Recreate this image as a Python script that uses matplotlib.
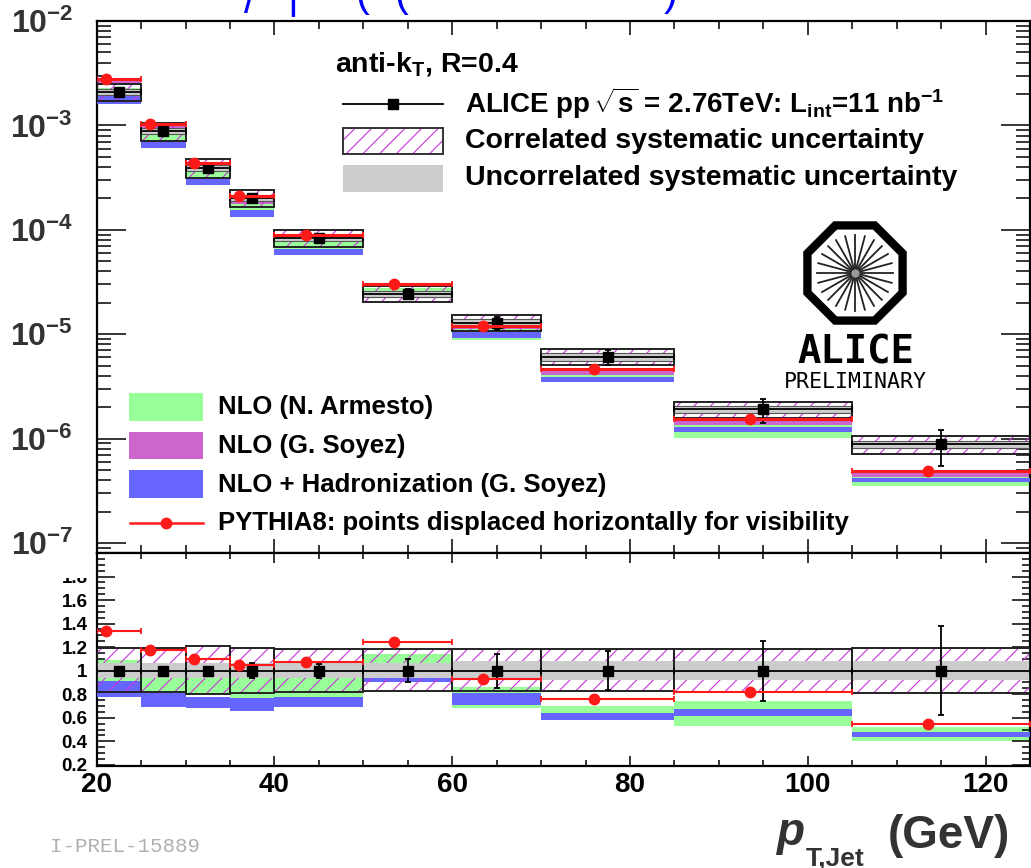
import numpy as np
import matplotlib
matplotlib.use('Agg')
import matplotlib.pyplot as plt
from matplotlib.patches import Rectangle, RegularPolygon
from matplotlib.ticker import FixedLocator, FuncFormatter, MultipleLocator, NullFormatter

W, H = 1031, 868
plt.rcParams['font.family'] = ['Liberation Sans', 'DejaVu Sans']
plt.rcParams['font.weight'] = 'bold'
plt.rcParams['mathtext.fontset'] = 'custom'
plt.rcParams['mathtext.rm'] = 'Liberation Sans:bold'
plt.rcParams['mathtext.bf'] = 'Liberation Sans:bold'
plt.rcParams['mathtext.it'] = 'Liberation Sans:italic:bold'
plt.rcParams['mathtext.sf'] = 'Liberation Sans:bold'
plt.rcParams['hatch.linewidth'] = 0.8

# ---------------- data ----------------
bin_lo = [20, 25, 30, 35, 40, 50, 60, 70, 85, 105]
bin_hi = [25, 30, 35, 40, 50, 60, 70, 85, 105, 125]
data_x = [22.5, 27.5, 32.5, 37.5, 45.0, 55.0, 65.0, 77.5, 95.0, 115.0]
data_y = [2.08e-3, 8.77e-4, 3.94e-4, 2.03e-4, 8.36e-5, 2.45e-5, 1.29e-5, 6.07e-6, 1.91e-6, 8.85e-7]
stat_rel = [0.01, 0.015, 0.02, 0.065, 0.06, 0.10, 0.145, 0.165, 0.255, 0.38]
corr_up = [0.193, 0.19, 0.207, 0.19, 0.187, 0.18, 0.18, 0.18, 0.18, 0.19]
corr_dn = [0.185, 0.185, 0.20, 0.19, 0.185, 0.17, 0.17, 0.17, 0.18, 0.19]
uncorr_rel = [0.065, 0.065, 0.065, 0.065, 0.065, 0.065, 0.08, 0.08, 0.08, 0.08]

pythia_x = [21.0, 26.0, 31.0, 36.0, 43.5, 53.5, 63.5, 76.0, 93.5, 113.5]
pythia_ratio = [1.334, 1.173, 1.10, 1.045, 1.074, 1.244, 0.932, 0.759, 0.815, 0.549]

armesto_hi = [1.09, 1.00, 0.95, 0.95, 0.98, 1.14, 0.86, 0.70, 0.745, 0.52]
armesto_lo = [0.88, 0.80, 0.79, 0.75, 0.78, 0.95, 0.68, 0.60, 0.526, 0.40]
soyez_hi = [1.27, 1.14, 1.12, 0.975, 1.02, 1.02, 0.92, 0.758, 0.77, 0.53]
soyez_lo = [1.19, 1.06, 1.05, 0.875, 0.915, 0.95, 0.86, 0.668, 0.70, 0.487]
had_hi = [0.91, 0.81, 0.78, 0.77, 0.78, 0.94, 0.81, 0.64, 0.677, 0.476]
had_lo = [0.775, 0.69, 0.68, 0.655, 0.69, 0.905, 0.71, 0.577, 0.611, 0.436]

C_GREEN = '#99ff99'
C_PURPLE = '#cc66cc'
C_BLUE = '#6666ff'
C_GRAY = '#cccccc'
C_HATCH = '#cc33dd'
C_RED = '#ff1a1a'

fig = plt.figure(figsize=(W / 100, H / 100), dpi=100)
L = 96.7 / W
Wd = 933.3 / W
ax1 = fig.add_axes([L, 1 - 553 / H, Wd, 532 / H])
ax2 = fig.add_axes([L, 1 - 766 / H, Wd, 213 / H])


def draw_panel(ax, scale, with_soyez, top):
    for i in range(len(bin_lo)):
        x0, x1 = bin_lo[i], bin_hi[i]
        w = x1 - x0
        s = scale[i]
        ax.add_patch(Rectangle((x0, s * armesto_lo[i]), w, s * (armesto_hi[i] - armesto_lo[i]),
                               fc=C_GREEN, lw=0, zorder=1))
        if with_soyez:
            ax.add_patch(Rectangle((x0, s * soyez_lo[i]), w, s * (soyez_hi[i] - soyez_lo[i]),
                                   fc=C_PURPLE, lw=0, zorder=2))
        ax.add_patch(Rectangle((x0, s * had_lo[i]), w, s * (had_hi[i] - had_lo[i]),
                               fc=C_BLUE, lw=0, zorder=3))
        ylo = s * (1 - corr_dn[i])
        yhi = s * (1 + corr_up[i])
        ax.add_patch(Rectangle((x0, ylo), w, yhi - ylo, fc='none', ec=C_HATCH,
                               hatch='//', lw=0, zorder=4))
        ulo = s * (1 - uncorr_rel[i])
        uhi = s * (1 + uncorr_rel[i])
        ax.add_patch(Rectangle((x0, ulo), w, uhi - ulo, fc=C_GRAY,
                               ec='#555555' if top else 'none', lw=0.8 if top else 0, zorder=5))
        ax.add_patch(Rectangle((x0, ylo), w, yhi - ylo, fc='none', ec='#222222',
                               lw=1.4, zorder=6))
    dx = np.array(data_x)
    lo = np.array(bin_lo)
    hi = np.array(bin_hi)
    sc = np.array(scale)
    st = np.array(stat_rel)
    ax.errorbar(dx, sc, yerr=sc * st, xerr=[dx - lo, hi - dx], fmt='s', color='black',
                ms=7.5, elinewidth=1.3, capsize=2.5, capthick=1.3, zorder=8)
    px = np.array(pythia_x)
    ax.errorbar(px, sc * np.array(pythia_ratio), xerr=[px - lo, hi - px], fmt='o',
                color=C_RED, ms=7.5, elinewidth=2.2 if top else 1.5, capsize=2.5,
                capthick=1.3, zorder=9)


draw_panel(ax1, data_y, True, True)
draw_panel(ax2, [1.0] * len(bin_lo), False, False)

# ---------------- axes styling ----------------
for ax in (ax1, ax2):
    ax.set_xlim(20, 125)
    for sp in ax.spines.values():
        sp.set_linewidth(1.6)
    ax.xaxis.set_major_locator(MultipleLocator(20))
    ax.xaxis.set_minor_locator(MultipleLocator(5))
    ax.tick_params(which='both', direction='in', top=True, right=True, width=1.1)

ax1.set_yscale('log')
ax1.set_ylim(8.02e-8, 1.0e-2)
ax1.yaxis.set_major_locator(FixedLocator([1e-7, 1e-6, 1e-5, 1e-4, 1e-3, 1e-2]))
ax1.yaxis.set_minor_locator(FixedLocator([m * 10.0 ** e for e in range(-8, -2) for m in range(2, 10)]))
ax1.yaxis.set_major_formatter(FuncFormatter(lambda v, p: r'$10^{%d}$' % int(round(np.log10(v)))))
ax1.yaxis.set_minor_formatter(NullFormatter())
ax1.tick_params(axis='y', which='major', length=21, labelsize=23, pad=17, labelcolor='#333333')
ax1.tick_params(axis='y', which='minor', length=10)
ax1.tick_params(axis='x', which='major', length=10, labelbottom=False)
ax1.tick_params(axis='x', which='minor', length=5.5)

ax2.set_ylim(0.19, 2.0)
ax2.yaxis.set_major_locator(FixedLocator([0.2, 0.4, 0.6, 0.8, 1.0, 1.2, 1.4, 1.6, 1.8]))
ax2.yaxis.set_minor_locator(MultipleLocator(0.05))
ax2.yaxis.set_major_formatter(FuncFormatter(lambda v, p: '%g' % round(v, 1)))
ax2.tick_params(axis='y', which='major', length=13, labelsize=13.5, pad=6.5)
ax2.tick_params(axis='y', which='minor', length=5.8)
ax2.tick_params(axis='x', which='major', length=7, labelsize=20, pad=4)
ax2.tick_params(axis='x', which='minor', length=4.5)

# ---------------- overlay (legends, logo, labels) ----------------
ov = fig.add_axes([0, 0, 1, 1], zorder=10)
ov.set_xlim(0, W)
ov.set_ylim(H, 0)
ov.axis('off')

# cover top of the "1.8" label (pad overlap as in original)
ov.add_patch(Rectangle((30, 563.5), 64, 14.5, fc='white', lw=0))

# top-right legend
ov.text(335, 71.7, r'anti-k$_{\mathrm{T}}$, R=0.4', fontsize=20.5, va='baseline', ha='left')
ov.plot([343, 443], [104, 104], color='black', lw=1.3)
ov.plot([393], [104], marker='s', color='black', ms=7.5)
ov.text(465, 113, r'ALICE pp$\,\sqrt{\mathrm{s}}$ = 2.76TeV: L$_{\mathrm{int}}$=11 nb$^{\mathrm{-1}}$',
        fontsize=20, va='baseline', ha='left')
ov.add_patch(Rectangle((343, 128), 100, 26, fc='none', ec=C_HATCH, hatch='//', lw=0))
ov.add_patch(Rectangle((343, 128), 100, 26, fc='none', ec='#333333', lw=1.4))
ov.text(465, 148.3, 'Correlated systematic uncertainty', fontsize=20.5, va='baseline', ha='left')
ov.add_patch(Rectangle((343, 165), 100, 27, fc=C_GRAY, lw=0))
ov.text(465, 185, 'Uncorrelated systematic uncertainty', fontsize=20.5, va='baseline', ha='left')

# bottom-left legend
ov.add_patch(Rectangle((129, 393), 74, 28, fc=C_GREEN, lw=0))
ov.text(218, 414.3, 'NLO (N. Armesto)', fontsize=18.5, va='baseline', ha='left')
ov.add_patch(Rectangle((129, 432), 74, 27, fc=C_PURPLE, lw=0))
ov.text(218, 452.7, 'NLO (G. Soyez)', fontsize=18.5, va='baseline', ha='left')
ov.add_patch(Rectangle((129, 470), 74, 28, fc=C_BLUE, lw=0))
ov.text(218, 491.7, 'NLO + Hadronization (G. Soyez)', fontsize=18.5, va='baseline', ha='left')
ov.plot([130, 203], [522.7, 522.7], color=C_RED, lw=1.8)
ov.plot([166], [522.7], marker='o', color=C_RED, ms=7.5)
ov.text(218, 530, 'PYTHIA8: points displaced horizontally for visibility', fontsize=18.5,
        va='baseline', ha='left')

# ALICE logo
cx, cy = 855, 273
ov.add_patch(RegularPolygon((cx, cy), 8, radius=51.5, orientation=np.pi / 8,
                            fc='none', ec='black', lw=6))
for k in range(24):
    a = k * np.pi / 12
    ov.plot([cx + 4 * np.cos(a), cx + 38 * np.cos(a)], [cy + 4 * np.sin(a), cy + 38 * np.sin(a)],
            color='#222222', lw=1.3)
ov.plot([cx], [cy], marker='o', color='#999999', ms=5)
ov.text(856, 363, 'ALICE', fontsize=28, family='DejaVu Sans Mono', weight='bold',
        ha='center', va='baseline')
ov.text(855, 388, 'PRELIMINARY', fontsize=15.5, family='DejaVu Sans Mono', weight='normal',
        ha='center', va='baseline')

# x-axis title
ov.text(776, 845, 'p', fontsize=33, style='italic', color='#333333', va='baseline', ha='left')
ov.text(806, 866, 'T,Jet', fontsize=19, color='#333333', va='baseline', ha='left')
ov.text(888, 848, '(GeV)', fontsize=33, color='#333333', va='baseline', ha='left')

# preliminary id
ov.text(50, 852, 'I-PREL-15889', fontsize=15, family='Liberation Mono', weight='normal',
        color='#b0b0b0', va='baseline', ha='left')

# cropped blue title fragments (top of original title is cut off in the reference)
for xc, ch, yb in [(250, '/', 13), (293, '|', 8), (362, '(', 6), (401, '(', 6), (671, ')', 5)]:
    ov.text(xc, yb, ch, fontsize=30, color='blue', weight='normal', ha='center', va='baseline')

fig.savefig('out.png', dpi=100)
